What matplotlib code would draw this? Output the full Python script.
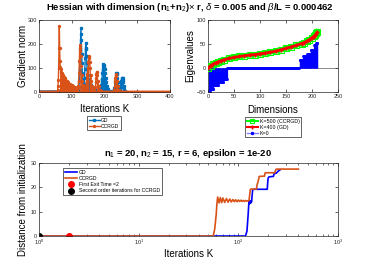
import numpy as np
import matplotlib
matplotlib.use("Agg")
import matplotlib.pyplot as plt
from matplotlib.lines import Line2D

plt.rcParams['font.family'] = ['Liberation Sans', 'DejaVu Sans']
plt.rcParams['mathtext.fontset'] = 'custom'
plt.rcParams['mathtext.rm'] = 'Liberation Sans'
plt.rcParams['mathtext.it'] = 'Liberation Sans:italic'

MBLUE = '#0072BD'
MORANGE = '#D95319'

# --- top left: gradient norm per iteration (nonzero iterations only) ---
gd_iters = [115, 118, 120, 122, 123, 124, 125, 126, 127, 128, 129, 130, 131, 132, 133, 134,
            136, 137, 138, 139, 140, 141, 142, 143, 144, 145, 146, 147, 149, 151, 153, 155,
            158, 161, 164, 168, 172, 176, 180, 184, 187, 189, 191, 193, 194, 195, 196, 197,
            198, 200, 202, 204, 206, 208, 211, 215, 220, 225, 228, 230, 232, 234, 236, 237,
            238, 239, 241, 243, 245, 247, 249, 250, 251, 252, 253, 254, 255, 256, 257, 259,
            261, 263, 265]
gd_vals = [1, 3, 8, 20, 45, 90, 130, 180, 240, 265, 215, 160, 120, 80, 55, 40,
           30, 28, 35, 60, 95, 140, 185, 205, 180, 150, 120, 95, 70, 55, 45, 35,
           28, 22, 17, 13, 10, 8, 7, 9, 15, 30, 55, 80, 95, 110, 115, 112,
           105, 95, 80, 60, 40, 25, 12, 6, 3, 4, 8, 18, 40, 60, 78, 80,
           75, 60, 40, 25, 12, 10, 20, 35, 45, 52, 58, 60, 58, 50, 40, 25,
           12, 5, 1]
gd_len = 266

cc_iters = [55, 57, 58, 59, 60, 61, 62, 63, 64, 65, 66, 68, 70, 72, 75, 78, 80, 85, 90,
            95, 100, 105, 110, 113, 115, 117, 119, 120, 121, 122, 123, 124, 125, 126, 127,
            128, 130, 132, 134, 137, 140, 143, 145, 147, 149, 151, 152, 153, 154, 155, 156,
            158, 160, 163, 166, 169, 171, 173, 174, 175, 176, 177, 178, 180, 182, 185, 189,
            194, 228, 230, 231, 232, 233, 234, 235, 236, 238, 240, 243, 247]
cc_vals = [2, 10, 25, 50, 100, 185, 275, 185, 130, 105, 95, 85, 78, 72, 64, 58, 54, 46, 40,
           34, 29, 24, 19, 16, 14, 13, 15, 25, 45, 80, 130, 170, 195, 185, 150,
           110, 70, 45, 30, 20, 18, 25, 45, 75, 100, 125, 140, 150, 145, 125, 100,
           70, 45, 25, 12, 10, 20, 40, 60, 75, 85, 83, 70, 45, 25, 10, 4,
           1, 2, 10, 25, 45, 60, 72, 75, 68, 45, 25, 8, 1]
cc_len = 401

# --- top right: sorted Hessian eigenvalues ---
eig_dims = [0, 5, 10, 15, 20, 25, 30, 40, 50, 60, 70, 80, 90, 100, 110, 120, 130, 140,
            150, 160, 170, 180, 185, 190, 195, 200, 203, 206, 208, 210]
eig_k500 = [0, 5, 8, 11, 13, 15, 17, 20, 22, 24, 25.5, 27, 28, 29.5, 31, 33, 35, 38,
            41, 44, 47, 51, 53, 56, 59, 63, 66, 69, 72, 76]
eig_k400 = [0, 5, 8, 11, 13, 15, 17, 20, 22, 24, 25.5, 27, 28, 29.5, 31, 33, 35, 38,
            41, 44, 47, 51, 53, 56, 59, 63, 65.5, 68.5, 71, 74]
# K=0 eigenvalues as constant runs: (first dim, last dim, value)
k0_runs = [(1, 4, -50), (5, 10, -44), (11, 20, -36), (21, 29, -29), (30, 36, -22),
           (37, 175, 0), (176, 182, 17), (183, 190, 25), (191, 197, 30), (198, 203, 38),
           (204, 207, 48), (208, 210, 52)]

# --- bottom: distance from initialization ---
gd_dist_it = [1, 118, 122, 125, 127, 128, 129, 130, 131, 132, 133, 134, 135, 136, 137, 139,
              141, 195, 197, 199, 203, 225, 227, 229, 240, 250, 262]
gd_dist = [0, 0, 2, 8, 12.5, 14.5, 13.2, 14.6, 13.4, 14.5, 13.6, 14.3, 13.8, 14.2, 16, 18.8,
           19.2, 19.2, 22, 23.8, 24.3, 24.5, 25.2, 25.6, 25.8, 26.6, 27.2]
cc_dist_it = [1, 56, 58, 60, 61, 62, 64, 66, 68, 70, 73, 76, 79, 82, 85, 88, 91, 94, 97, 100,
              103, 106, 109, 112, 115, 118, 121, 124, 126, 128, 130, 132, 136, 152, 154,
              158, 162, 183, 185, 188, 232, 236, 240, 400]
cc_dist = [0, 0, 3, 9, 13.5, 16, 13.6, 15.8, 13.7, 15.6, 13.8, 15.4, 13.9, 15.2, 14, 15.0,
           14.1, 14.9, 14.1, 14.8, 14.2, 14.7, 14.2, 14.6, 14.2, 14.6, 14.3, 14.5, 14.4,
           14.6, 17, 19.2, 19.3, 19.3, 21, 22.5, 24.5, 24.6, 25.8, 26, 26, 27, 27.5, 27.5]
first_exit = 2
second_order = 1


def style(ax):
    ax.tick_params(direction='in', top=True, right=True, labelsize=4, length=2,
                   width=0.5, colors='#262626', pad=1.5)
    ax.tick_params(which='minor', direction='in', top=True, right=True, length=1.2, width=0.4)
    for s in ax.spines.values():
        s.set_linewidth(0.5)
        s.set_color('#262626')


fig = plt.figure(figsize=(3.74, 2.65), dpi=100)

# top left
ax1 = fig.add_axes([0.1043, 0.6528, 0.3503, 0.2717])
gd_norm = np.zeros(gd_len)
gd_norm[gd_iters] = gd_vals
cc_norm = np.zeros(cc_len)
cc_norm[cc_iters] = cc_vals
ax1.plot(np.arange(gd_len), gd_norm, '-s', color=MBLUE, lw=1.0, ms=1.4, label='GD')
ax1.plot(np.arange(cc_len), cc_norm, '-o', color=MORANGE, lw=1.0, ms=1.4, label='CCRGD')
ax1.set_xlim(0, 400)
ax1.set_ylim(0, 300)
ax1.set_xticks([0, 100, 200, 300, 400])
ax1.set_yticks([0, 100, 200, 300])
style(ax1)
ax1.set_xlabel('Iterations K', fontsize=7)
ax1.xaxis.set_label_coords(0.5, -0.236)
ax1.xaxis.label.set_va('center')
ax1.set_ylabel('Gradient norm', fontsize=7)
ax1.yaxis.set_label_coords(-0.125, 0.5)
ax1.yaxis.label.set_va('center')
leg1 = fig.legend(handles=ax1.get_lines(), loc='upper left',
                  bbox_to_anchor=(87 / 374, 1 - 116 / 265), fontsize=3.6,
                  fancybox=False, edgecolor='#262626', framealpha=1, borderpad=0.3,
                  labelspacing=0.2, handlelength=2.2, handletextpad=0.3, borderaxespad=0)
leg1.get_frame().set_linewidth(0.5)

# top right
ax2 = fig.add_axes([0.5561, 0.6528, 0.3476, 0.2717])
ax2.axhline(0, color='#8c8c8c', lw=0.7, zorder=1)
k0_dims, k0_vals = [], []
for a, b, v in k0_runs:
    for d in range(a, b + 1):
        k0_dims.append(d)
        k0_vals.append(v)
ax2.vlines(k0_dims, 0, k0_vals, color='b', lw=0.9, zorder=2)
ax2.plot(k0_dims, k0_vals, 'o', color='b', ms=1.6, mew=0.4, zorder=2)
ax2.plot(eig_dims, eig_k500, '-s', color='#00ff00', lw=3.5, ms=4, mfc='none', mew=0.8, zorder=3)
ax2.plot(eig_dims, eig_k400, '-+', color='r', lw=2, ms=3, zorder=4)
ax2.set_xlim(0, 250)
ax2.set_ylim(-50, 100)
ax2.set_xticks([0, 50, 100, 150, 200, 250])
ax2.set_yticks([-50, 0, 50, 100])
style(ax2)
ax2.set_xlabel('Dimensions', fontsize=7)
ax2.xaxis.set_label_coords(0.5, -0.245)
ax2.xaxis.label.set_va('center')
ax2.set_ylabel('Eigenvalues', fontsize=7)
ax2.yaxis.set_label_coords(-0.135, 0.5)
ax2.yaxis.label.set_va('center')
h2 = [Line2D([], [], color='#00ff00', lw=1.5, marker='s', ms=3, mfc='none', mew=0.8),
      Line2D([], [], color='r', lw=1.5, marker='+', ms=3),
      Line2D([], [], color='#8080ff', lw=1, marker='o', ms=1.5, mfc='b', mec='b')]
leg2 = fig.legend(h2, ['K=500 (CCRGD)', 'K=400 (GD)', 'K=0'], loc='upper left',
                  bbox_to_anchor=(245 / 374, 1 - 117 / 265), fontsize=3.8,
                  fancybox=False, edgecolor='#262626', framealpha=1, borderpad=0.3,
                  labelspacing=0.2, handlelength=2.2, handletextpad=0.3, borderaxespad=0)
leg2.get_frame().set_linewidth(0.5)

fig.text(0.507, 0.97, r'Hessian with dimension (n$_1$+n$_2$)$\times$ r, $\delta$ = 0.005 and $\beta$/L = 0.000462',
         ha='center', va='center', fontsize=6.8, fontweight='bold')

# bottom
ax3 = fig.add_axes([0.1043, 0.1094, 0.7995, 0.2755])
ax3.plot(gd_dist_it, gd_dist, color='b', lw=1.2, label='GD')
ax3.plot(cc_dist_it, cc_dist, color=MORANGE, lw=1.2, label='CCRGD')
ax3.plot([first_exit], [0], 'o', color='r', ms=4, label='First Exit Time =2')
ax3.plot([second_order], [0], 'o', color='k', ms=4, label='Second order iterations for CCRGD')
ax3.set_xscale('log')
ax3.set_xlim(1, 1000)
ax3.set_ylim(0, 30)
ax3.set_yticks([0, 10, 20, 30])
style(ax3)
ax3.set_xlabel('Iterations K', fontsize=7)
ax3.xaxis.set_label_coords(0.5, -0.247)
ax3.xaxis.label.set_va('center')
ax3.set_ylabel('Distance from initialization', fontsize=7)
ax3.yaxis.set_label_coords(-0.055, 0.5)
ax3.yaxis.label.set_va('center')
leg3 = ax3.legend(loc='upper left', bbox_to_anchor=(24 / 299, 1 - 5 / 73), fontsize=3.7,
                  fancybox=False, edgecolor='#262626', framealpha=1, borderpad=0.3,
                  labelspacing=0.25, handlelength=2.5, handletextpad=0.3, borderaxespad=0)
leg3.get_frame().set_linewidth(0.5)
fig.text(0.504, 1 - 153 / 265, r'n$_1$ = 20, n$_2$ = 15, r = 6, epsilon = 1e-20',
         ha='center', va='center', fontsize=6.8, fontweight='bold')

fig.savefig('out.png', dpi=100)
